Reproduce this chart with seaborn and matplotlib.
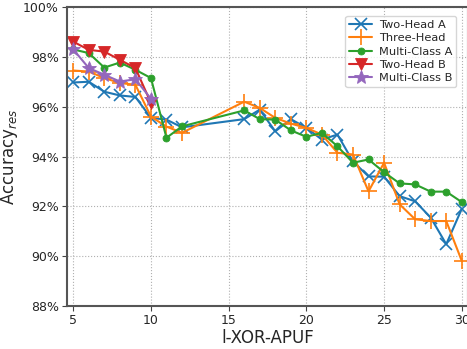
import numpy as np
import pandas as pd
import matplotlib
matplotlib.use("Agg")
import matplotlib.pyplot as plt
import matplotlib.ticker as mticker
import seaborn as sns

# ── DATA ──────────────────────────────────────────────────────────────────────
x_a = [5, 6, 7, 8, 9, 10, 11, 12, 16, 17, 18, 19, 20, 21, 22, 23, 24, 25, 26, 27, 28, 29, 30]
x_b = [5, 6, 7, 8, 9, 10]

two_head_a = [96.97, 97.0, 96.6, 96.45, 96.39, 95.55, 95.48, 95.17, 95.5, 95.88, 95.01, 95.5,
              95.15, 94.68, 94.88, 93.8, 93.2, 93.19, 92.41, 92.2, 91.55, 90.48, 91.9]
three_head = [97.45, 97.41, 97.15, 96.95, 96.88, 95.6, 95.2, 94.95, 96.2, 95.95, 95.55, 95.32,
              95.15, 94.88, 94.15, 94.08, 92.6, 93.75, 92.08, 91.48, 91.41, 91.41, 89.81]
multi_class_a = [98.3, 98.15, 97.57, 97.77, 97.48, 97.15, 94.75, 95.21, 95.85, 95.5, 95.48, 95.05,
                 94.79, 94.95, 94.41, 93.75, 93.88, 93.37, 92.92, 92.88, 92.59, 92.59, 92.17]
two_head_b = [98.61, 98.28, 98.21, 97.88, 97.55, 96.15]
multi_class_b = [98.3, 97.55, 97.28, 97.01, 97.1, 96.32]

series = [
    ("Two-Head A", x_a, two_head_a, "x", 9, "tab:blue"),
    ("Three-Head", x_a, three_head, "+", 11, "tab:orange"),
    ("Multi-Class A", x_a, multi_class_a, "o", 5, "tab:green"),
    ("Two-Head B", x_b, two_head_b, "v", 9, "tab:red"),
    ("Multi-Class B", x_b, multi_class_b, "*", 10, "tab:purple"),
]

# ── PLOT ──────────────────────────────────────────────────────────────────────
sns.set_style("ticks")
plt.rcParams["font.family"] = "DejaVu Sans"

fig = plt.figure(figsize=(4.67, 3.49), dpi=100)
ax = fig.add_axes([67 / 467, 43 / 349, 401 / 467, 299 / 349])

for name, xs, ys, mk, ms, col in series:
    df = pd.DataFrame({"l": xs, "acc": ys})
    sns.lineplot(data=df, x="l", y="acc", ax=ax, label=name, color=col,
                 marker=mk, markersize=ms, markeredgewidth=1.2 if mk in "x+" else 0.6,
                 markeredgecolor=col, linewidth=1.5)

ax.set_xlim(4.6, 30.4)
ax.set_ylim(88, 100)
ax.set_xticks([5, 10, 15, 20, 25, 30])
ax.set_yticks(np.arange(88, 101, 2))
ax.yaxis.set_major_formatter(mticker.FuncFormatter(lambda v, _: f"{int(v)}%"))
ax.tick_params(labelsize=9, color="#444444", length=3.5, pad=2.5)
ax.grid(True, linestyle=":", color="#b0b0b0", linewidth=0.8)
for s in ax.spines.values():
    s.set_color("#555555")
    s.set_linewidth(1.5)

ax.set_xlabel("l-XOR-APUF", fontsize=12, labelpad=1)
ax.set_ylabel("Accuracy$_{res}$", fontsize=12, labelpad=2)
ax.legend(loc="upper right", bbox_to_anchor=(0.985, 0.99), fontsize=8.2,
          frameon=True, fancybox=True, handlelength=2.0, borderpad=0.35,
          labelspacing=0.3, handletextpad=0.6)

fig.savefig("out.png", dpi=100)
